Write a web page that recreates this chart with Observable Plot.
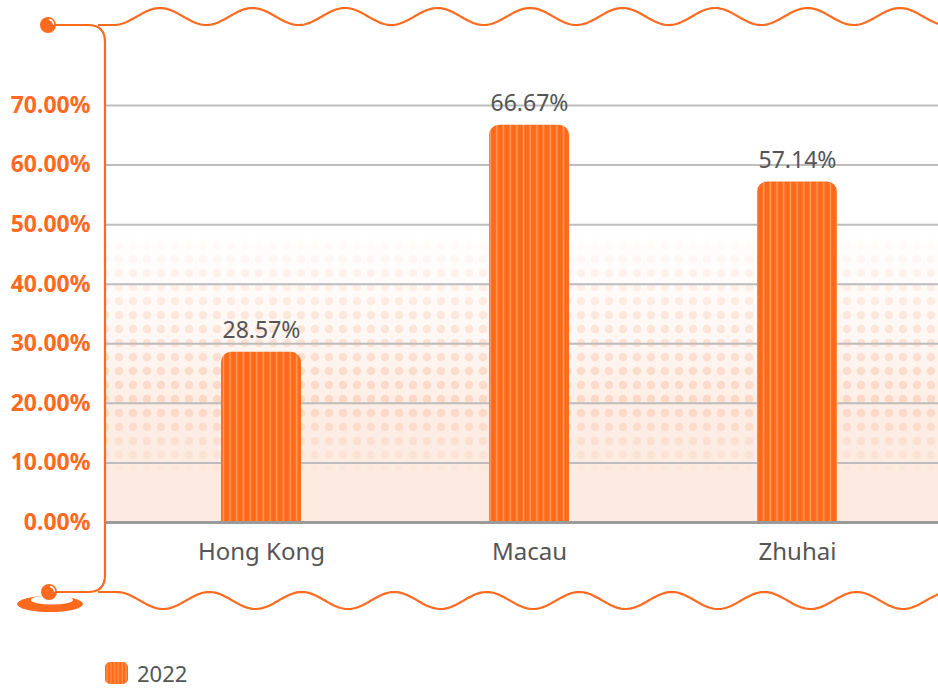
<!DOCTYPE html>
<html><head><meta charset="utf-8">
<script src="https://cdn.jsdelivr.net/npm/d3@7"></script>
<script src="https://cdn.jsdelivr.net/npm/@observablehq/plot@0.6"></script>
<style>
body{margin:0;background:#fff;font-family:"Noto Sans",sans-serif;overflow:hidden}
#legend{display:flex;align-items:center;height:24px;margin-left:105px;margin-top:5px;font-size:22px;line-height:24px;color:#555}
#legend svg{display:block}
#legend span{margin-left:9px}
</style></head><body>
<div id="chart" style="height:656px"></div>
<div id="legend"></div>
<script>
const regions = ["Hong Kong", "Macau", "Zhuhai"];
const shares = [0.2857, 0.6667, 0.5714];
const seriesName = "2022";
const yTicks = [0, 0.1, 0.2, 0.3, 0.4, 0.5, 0.6, 0.7];

const data = regions.map((r, i) => ({region: r, value: shares[i]}));
const orange = "#ff6a1f";
const pct = d3.format(".2%");

const svgEl = Plot.plot({
  width: 938,
  height: 656,
  marginLeft: 105,
  marginRight: 0,
  marginTop: 105,
  marginBottom: 134,
  style: {fontFamily: "'Noto Sans', sans-serif", background: "transparent", overflow: "visible", display: "block"},
  x: {domain: regions, range: [127, 931], paddingInner: 0.7, paddingOuter: 0.35, label: null},
  y: {domain: [0, 0.7], range: [522, 105], label: null},
  marks: [
    Plot.ruleY(yTicks.filter(d => d > 0), {stroke: "#bdbdbd", strokeWidth: 2}),
    Plot.barY(data, {x: "region", y: "value", fill: "url(#stripes)", rx: 10}),
    Plot.barY(data, {x: "region", y1: 0, y2: d => d.value / 2, fill: "url(#stripes)"}),
    Plot.ruleY([0], {stroke: "#9a9a9a", strokeWidth: 3}),
    Plot.text(data, {x: "region", y: "value", text: d => pct(d.value), dy: -14, lineAnchor: "bottom", fontSize: 23, fill: "#555"}),
    Plot.axisX({tickSize: 0, tickPadding: 20, fontSize: 24, fill: "#555", label: null}),
    Plot.axisY({ticks: yTicks, tickFormat: pct, tickSize: 0, tickPadding: 15, fontSize: 23, fontWeight: "bold", fill: orange, label: null})
  ]
});
document.getElementById("chart").appendChild(svgEl);

const svg = d3.select(svgEl);
const defs = svg.insert("defs", ":first-child");
const pat = defs.append("pattern").attr("id", "stripes").attr("patternUnits", "userSpaceOnUse")
  .attr("width", 6.67).attr("height", 10);
pat.append("rect").attr("width", 6.67).attr("height", 10).attr("fill", "#ff6a1a");
pat.append("rect").attr("x", 2.6).attr("width", 1.4).attr("height", 10).attr("fill", "#ffa062");

// background fade
const g1 = defs.append("linearGradient").attr("id", "bgfade").attr("x1", 0).attr("y1", 0).attr("x2", 0).attr("y2", 1);
[[0, 0], [0.35, 0.35], [0.6, 0.85], [1, 1]].forEach(([o, a]) =>
  g1.append("stop").attr("offset", o).attr("stop-color", "#fdeae0").attr("stop-opacity", a));
const dots = defs.append("pattern").attr("id", "dots").attr("patternUnits", "userSpaceOnUse").attr("width", 14).attr("height", 14);
dots.append("circle").attr("cx", 7).attr("cy", 7).attr("r", 4.3).attr("fill", "#fbd3bf");
const g2 = defs.append("linearGradient").attr("id", "dotfade").attr("x1", 0).attr("y1", 0).attr("x2", 0).attr("y2", 1);
[[0, 0], [0.35, 0.55], [0.6, 0.85], [0.75, 0.45], [0.85, 0]].forEach(([o, a]) =>
  g2.append("stop").attr("offset", o).attr("stop-color", "#fff").attr("stop-opacity", a));
const mask = defs.append("mask").attr("id", "dotmask").attr("maskUnits", "userSpaceOnUse");
mask.append("rect").attr("x", 105).attr("y", 230).attr("width", 833).attr("height", 292).attr("fill", "url(#dotfade)");

const bg = svg.insert("g", "defs + *");
bg.append("rect").attr("x", 105).attr("y", 230).attr("width", 833).attr("height", 292).attr("fill", "url(#bgfade)");
bg.append("rect").attr("x", 105).attr("y", 230).attr("width", 833).attr("height", 292).attr("fill", "url(#dots)").attr("mask", "url(#dotmask)");

// decorations
const deco = svg.append("g").attr("fill", "none").attr("stroke", orange).attr("stroke-width", 2.2);
const period = 92.5;
const topWave = [[98, 25], [114, 25]];
for (let x = 114; x <= 940; x += 2) topWave.push([x, 16.5 - 8.5 * Math.cos(2 * Math.PI * (x - 160) / period)]);
const botWave = [[98, 592], [117, 592]];
for (let x = 117; x <= 940; x += 2) botWave.push([x, 600.5 + 8.5 * Math.cos(2 * Math.PI * (x - 163) / period)]);
deco.append("path").attr("d", d3.line()(topWave));
deco.append("path").attr("d", d3.line()(botWave));
deco.append("path").attr("d", "M50,25 H88 Q105,25 105,42 V575 Q105,592 88,592 H50");

// bottom ellipse
svg.append("ellipse").attr("cx", 50).attr("cy", 604).attr("rx", 33).attr("ry", 8).attr("fill", orange);
svg.append("ellipse").attr("cx", 52).attr("cy", 600).attr("rx", 21).attr("ry", 4.5).attr("fill", "#fff");

function ball(cx, cy) {
  svg.append("circle").attr("cx", cx).attr("cy", cy).attr("r", 8).attr("fill", orange);
  svg.append("path").attr("d", `M${cx + 1.5},${cy - 5.5} A5.5,5.5 0 0 1 ${cx + 5.5},${cy - 1}`)
    .attr("fill", "none").attr("stroke", "#fff").attr("stroke-width", 1.5).attr("stroke-linecap", "round");
}
ball(48, 25);
ball(49, 592);

// legend
const leg = d3.select("#legend");
const ls = leg.append("svg").attr("width", 23).attr("height", 22);
const lp = ls.append("defs").append("pattern").attr("id", "stripesL").attr("patternUnits", "userSpaceOnUse").attr("width", 3.8).attr("height", 10);
lp.append("rect").attr("width", 3.8).attr("height", 10).attr("fill", "#ff6a1a");
lp.append("rect").attr("x", 1.5).attr("width", 1).attr("height", 10).attr("fill", "#ffa062");
ls.append("rect").attr("width", 23).attr("height", 22).attr("rx", 5).attr("fill", "url(#stripesL)");
leg.append("span").text(seriesName);
</script>
</body></html>
